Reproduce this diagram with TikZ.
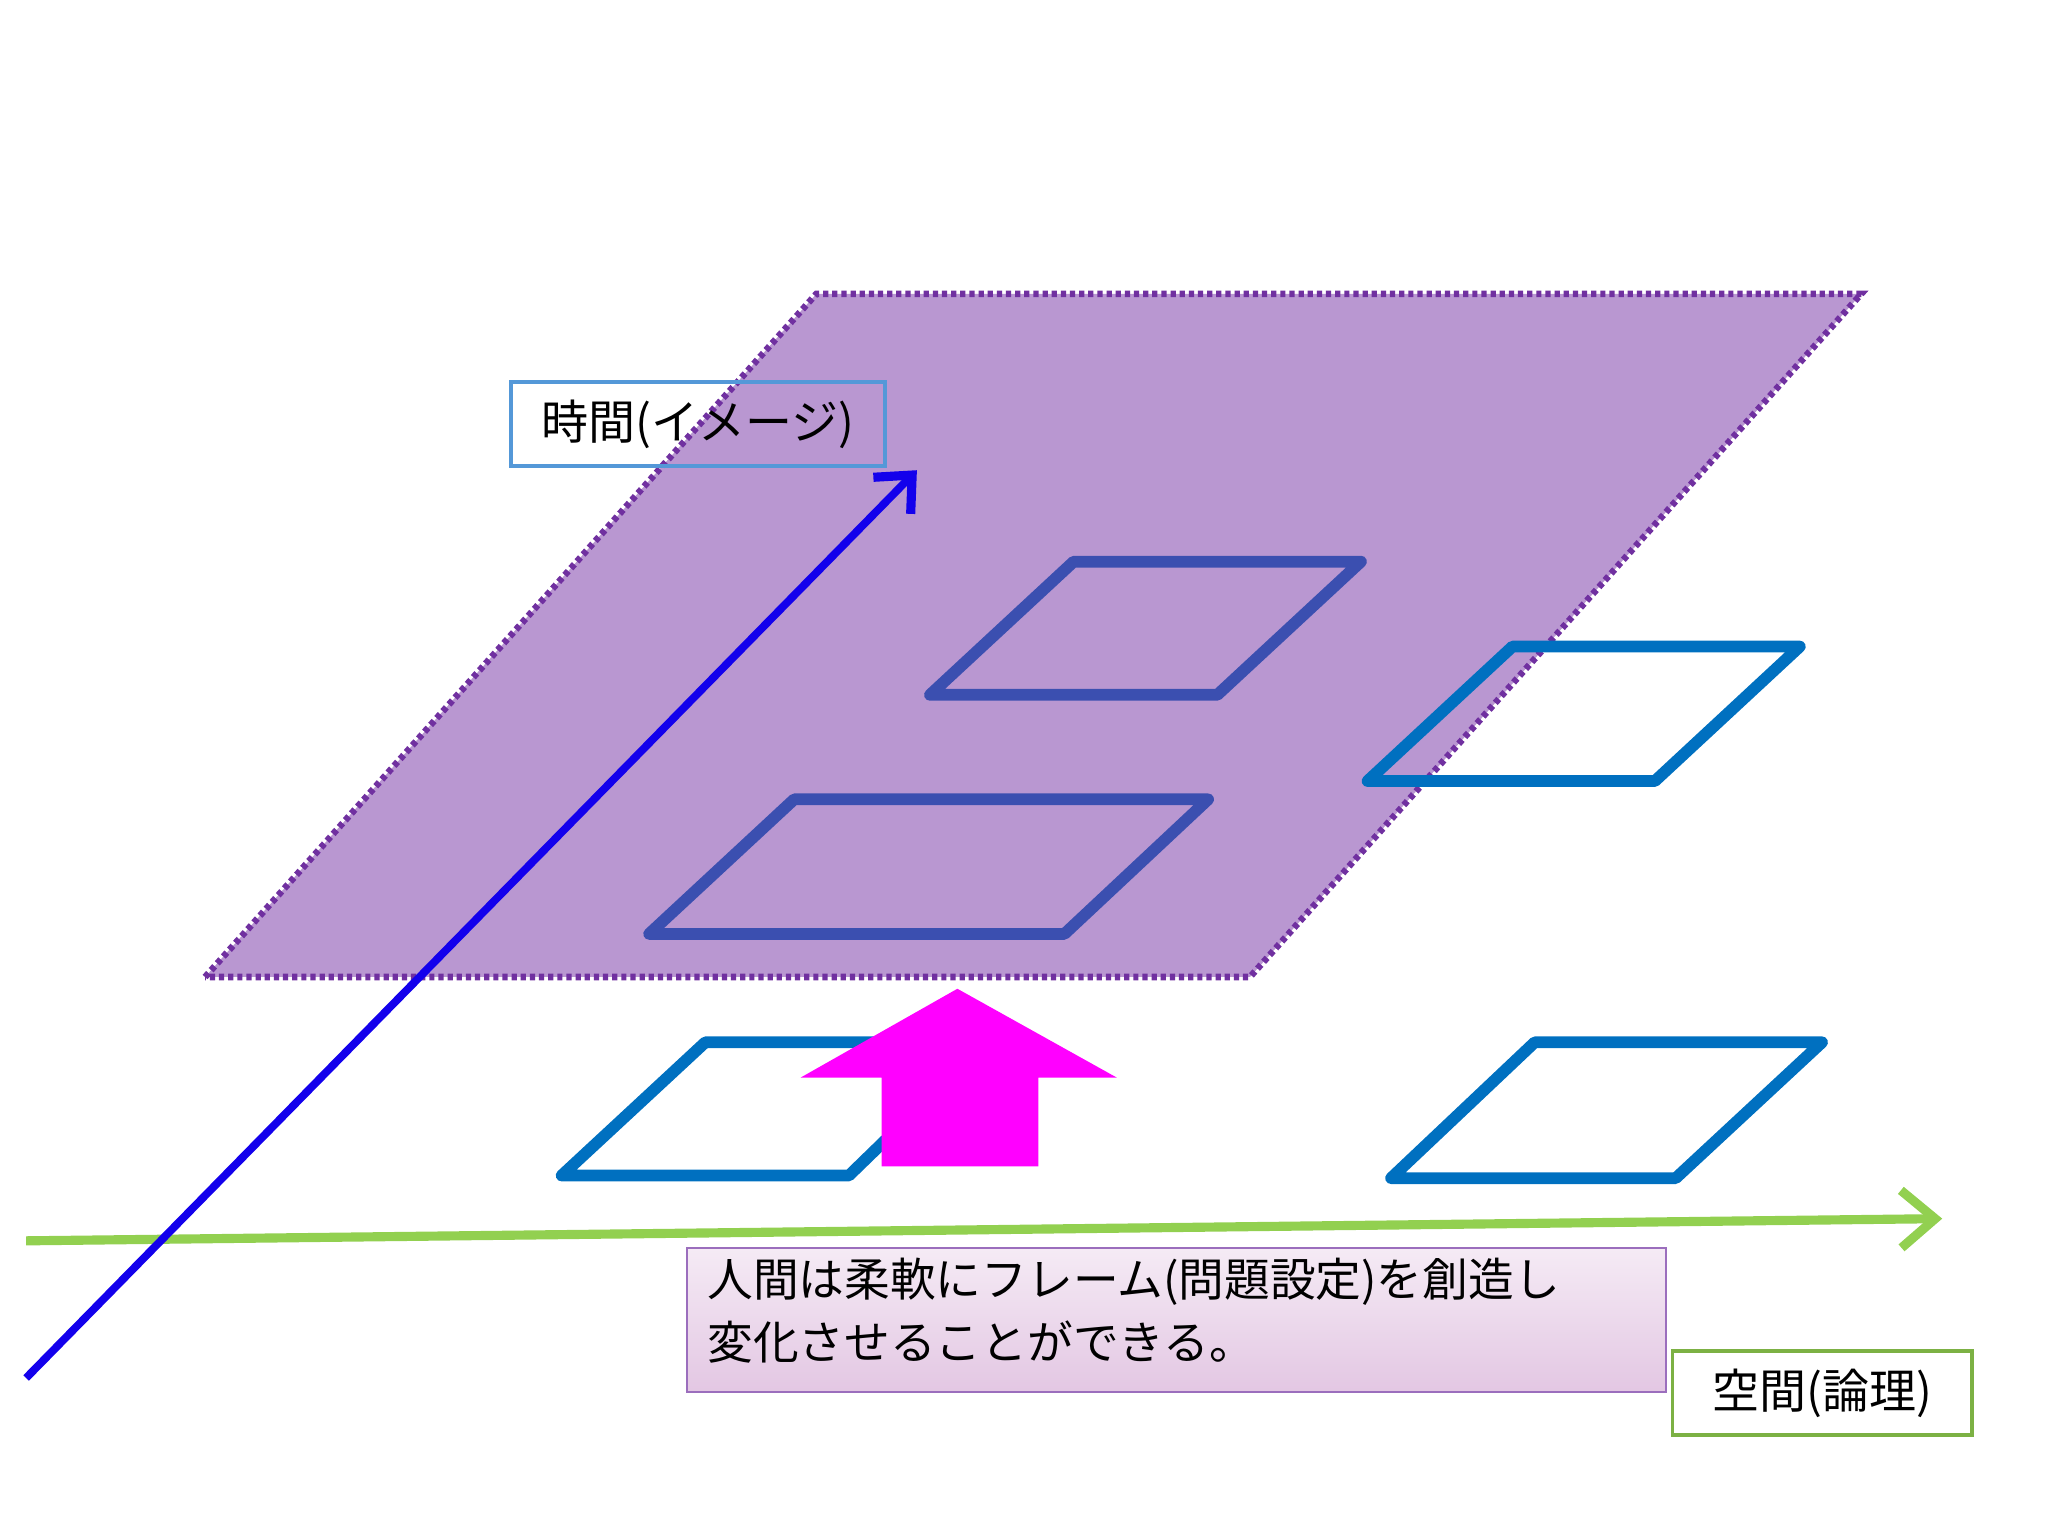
\documentclass[tikz,border=0pt]{standalone}
\usepackage{fontspec}
\setmainfont{Noto Sans CJK JP}
\usetikzlibrary{arrows.meta}
\definecolor{plane}{HTML}{B794D0}
\definecolor{planeb}{HTML}{7030A0}
\definecolor{fb}{HTML}{0070C0}
\definecolor{fp}{HTML}{3B4FB0}
\definecolor{grn}{HTML}{92D050}
\definecolor{mag}{HTML}{FF00FF}
\tikzset{frame/.style={draw=fb,line width=9pt,line join=round},
 pframe/.style={draw=fp,line width=9pt,line join=round},
 lab/.style={draw,line width=3pt,inner sep=0pt,font=\fontsize{36}{40}\selectfont,anchor=north west}}
\begin{document}
\begin{tikzpicture}[x=1pt,y=-1pt]
\useasboundingbox (0,0) rectangle (1568,1176);
\fill[white] (390,291) rectangle (676,355);
\fill[plane,opacity=0.97] (157,748) coordinate (p1) -- (625,225) coordinate (p2) -- (1425,225) coordinate (p3) -- (957,748) coordinate (p4) -- cycle;
\draw[planeb,line width=5pt,dash pattern=on 4pt off 3pt] (p1)--(p2)--(p3)--(p4)--cycle;
\node[lab,draw=cyan!60!blue!70,minimum width=286pt,minimum height=64pt] (tl) at (390,291) {時間(イメージ)};
\draw[frame] (1047,598)--(1158,495)--(1378,495)--(1267,598)--cycle;
\draw[pframe] (712,532)--(822,430)--(1042,430)--(932,532)--cycle;
\draw[pframe] (497,715)--(608,612)--(925,612)--(815,715)--cycle;
\draw[frame] (430,900)--(540,798)--(755,798)--(650,900)--cycle;
\draw[frame] (1065,902)--(1175,798)--(1395,798)--(1283,902)--cycle;
\fill[mag] (675,893)--(675,825)--(613,825)--(733,757)--(855,825)--(795,825)--(795,893)--cycle;
\coordinate (g0) at (20,950); \coordinate (g1) at (1487,933);
\draw[grn,line width=7pt,-{Straight Barb[length=26pt,width=44pt,line width=7pt]}] (g0)--(g1);
\coordinate (b0) at (20,1055); \coordinate (b1) at (702,360);
\draw[blue!85!violet,line width=6pt,-{Straight Barb[length=22pt,width=40pt,line width=7pt]}] (b0)--(b1);
\node[draw=planeb!70,line width=1.5pt,top color=violet!8,bottom color=violet!22,minimum width=750pt,minimum height=110pt,anchor=north west,inner sep=0pt] (tx) at (525,955) {};
\node[anchor=north west,font=\fontsize{35}{48}\selectfont,align=left] at (538,960) {人間は柔軟にフレーム(問題設定)を創造し\\変化させることができる。};
\node[lab,draw=grn!85!black,minimum width=229pt,minimum height=64pt] (sl) at (1279,1033) {空間(論理)};
\end{tikzpicture}
\end{document}
